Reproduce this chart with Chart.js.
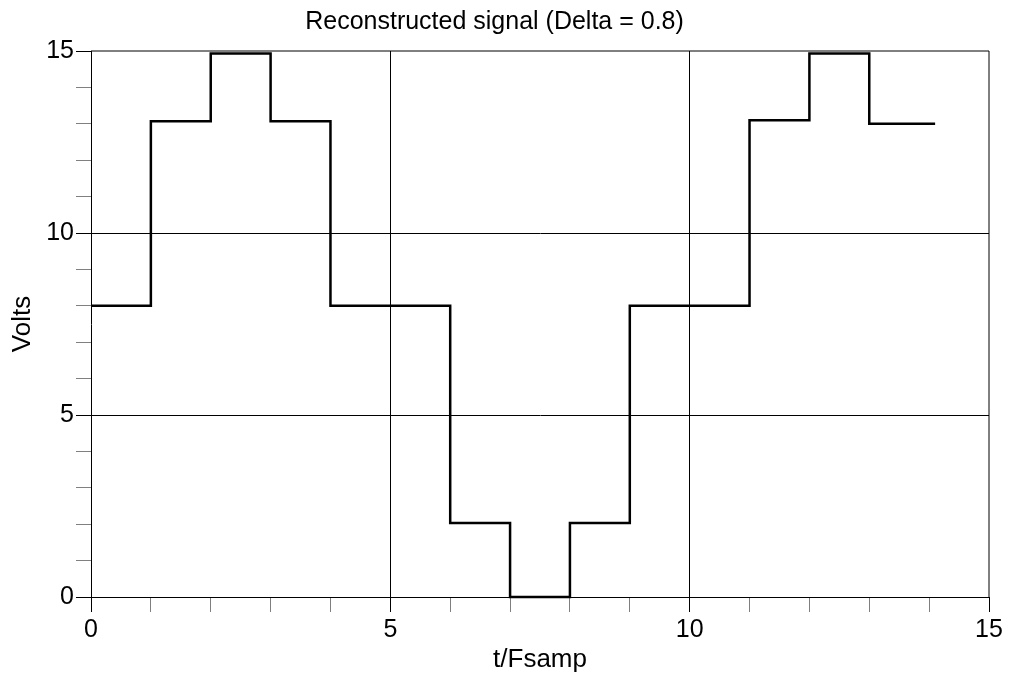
<!DOCTYPE html>
<html>
<head>
<meta charset="utf-8">
<script src="https://cdn.jsdelivr.net/npm/chart.js@4.4.1/dist/chart.umd.min.js"></script>
<style>
  html, body { margin: 0; padding: 0; background: #fff; }
  #wrap { width: 1016px; height: 673px; }
</style>
</head>
<body>
<div id="wrap"><canvas id="c" width="1016" height="673"></canvas></div>
<script>
// Sample times (t/Fsamp) where each held level starts; the last entry closes the final step
const times = [0, 1, 2, 3, 4, 5, 6, 7, 8, 9, 10, 11, 12, 13, 14.1];
// Reconstructed signal levels (Volts)
const volts = [8, 13.07, 14.93, 13.07, 8, 8, 2.03, 0, 2.03, 8, 8, 13.1, 14.93, 13.0, 13.0];
const xTicks = [0, 5, 10, 15];
const yTicks = [0, 5, 10, 15];

const FONT = "'Liberation Sans', Arial, sans-serif";

const framePlugin = {
  id: 'frame',
  afterDatasetsDraw(chart) {
    const a = chart.chartArea, ctx = chart.ctx;
    ctx.save();
    ctx.strokeStyle = '#000';
    ctx.lineWidth = 1;
    ctx.beginPath();
    ctx.moveTo(a.left, a.top); ctx.lineTo(a.right, a.top);
    ctx.moveTo(a.right, a.top); ctx.lineTo(a.right, a.bottom);
    ctx.stroke();
    ctx.restore();
  }
};

const gridColor = ctx => {
  const v = ctx.tick ? ctx.tick.value : null;
  return (v === 5 || v === 10) ? '#000' : 'rgba(0,0,0,0)';
};
const tickColor = ctx => {
  const v = ctx.tick ? ctx.tick.value : null;
  return (xTicks.includes(v)) ? '#000' : '#808080';
};

new Chart(document.getElementById('c'), {
  type: 'line',
  data: {
    datasets: [{
      data: times.map((t, i) => ({ x: t, y: volts[i] })),
      stepped: 'before',
      borderColor: '#000',
      borderWidth: 2.5,
      pointRadius: 0,
      fill: false,
      clip: false
    }]
  },
  options: {
    responsive: false,
    animation: false,
    layout: { padding: { left: 0, right: 27, top: 0, bottom: 0 } },
    plugins: {
      legend: { display: false },
      tooltip: { enabled: false },
      title: {
        display: true,
        text: 'Reconstructed signal (Delta = 0.8)',
        color: '#000',
        font: { family: FONT, size: 25, weight: 'normal', lineHeight: 1.2 },
        padding: { top: 7, bottom: 14 }
      }
    },
    scales: {
      x: {
        type: 'linear',
        min: 0, max: 15,
        afterFit: s => { s.height = 76; },
        afterBuildTicks: s => { s.ticks = Array.from({ length: 16 }, (_, i) => ({ value: i })); },
        ticks: {
          autoSkip: false,
          maxRotation: 0,
          color: '#000',
          padding: 3,
          font: { family: FONT, size: 25 },
          callback: v => xTicks.includes(v) ? String(v) : ''
        },
        grid: {
          color: gridColor,
          lineWidth: 1,
          tickLength: 15,
          tickColor: tickColor,
          tickWidth: 1
        },
        border: { display: true, color: '#000', width: 1 },
        title: {
          display: true,
          text: 't/Fsamp',
          color: '#000',
          font: { family: FONT, size: 26, lineHeight: 1.0 },
          padding: { top: 0, bottom: 0 }
        }
      },
      y: {
        type: 'linear',
        min: 0, max: 15,
        afterFit: s => { s.width = 91; },
        afterBuildTicks: s => { s.ticks = Array.from({ length: 16 }, (_, i) => ({ value: i })); },
        ticks: {
          autoSkip: false,
          color: '#000',
          padding: 2,
          font: { family: FONT, size: 25 },
          callback: v => yTicks.includes(v) ? String(v) : ''
        },
        grid: {
          color: gridColor,
          lineWidth: 1,
          tickLength: 15,
          tickColor: tickColor,
          tickWidth: 1
        },
        border: { display: true, color: '#000', width: 1 },
        title: {
          display: true,
          text: 'Volts',
          color: '#000',
          font: { family: FONT, size: 26, lineHeight: 1.0 },
          padding: { top: 10, bottom: 0 }
        }
      }
    }
  },
  plugins: [framePlugin]
});
</script>
</body>
</html>
